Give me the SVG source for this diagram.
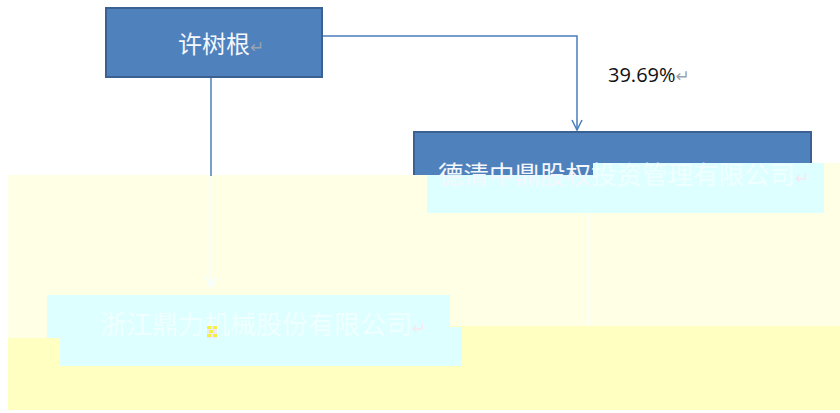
<svg xmlns="http://www.w3.org/2000/svg" width="840" height="413" viewBox="0 0 840 413">
  <style>
    .box { fill: #4F81BD; stroke: #3A6191; stroke-width: 2; }
    .ghost { fill: #DDFFFF; }
    .lbl { font-family: "Noto Sans CJK SC", "Noto Sans", sans-serif; font-size: 24px; fill: #F4F7FC; }
    .ret { fill: #9AA3B0; font-family: "DejaVu Sans", sans-serif; font-size: 17px; }
    .ret-pale { fill: #F6EAF2; font-family: "DejaVu Sans", sans-serif; font-size: 17px; }
    .pct { font-family: "Open Sans", "Liberation Sans", sans-serif; font-size: 20px; fill: #111; }
    .conn { fill: none; stroke-width: 1.5; }
  </style>
  <defs>
    <marker id="arrowBlue" viewBox="0 0 12 12" refX="11" refY="6" markerWidth="12" markerHeight="12" markerUnits="userSpaceOnUse" orient="auto">
      <path d="M1,1 L11,6 L1,11" fill="none" stroke="#4A7EBB" stroke-width="1.5"/>
    </marker>
    <marker id="arrowPale" viewBox="0 0 12 12" refX="11" refY="6" markerWidth="12" markerHeight="12" markerUnits="userSpaceOnUse" orient="auto">
      <path d="M1,1 L11,6 L1,11" fill="none" stroke="#F6FFFF" stroke-width="2"/>
    </marker>
    <linearGradient id="fade" gradientUnits="userSpaceOnUse" x1="0" y1="0" x2="0" y2="413">
      <stop offset="0.426" stop-color="#4A7EBB"/>
      <stop offset="0.426" stop-color="#F6FFFF"/>
    </linearGradient>
    <linearGradient id="textFade" gradientUnits="userSpaceOnUse" x1="0" y1="0" x2="840" y2="0">
      <stop offset="0.706" stop-color="#F4F7FC"/>
      <stop offset="0.706" stop-color="#F0FFFF"/>
    </linearGradient>
    <clipPath id="aboveOverlay">
      <polygon points="0,0 840,0 840,163 593,163 593,175 0,175"/>
    </clipPath>
  </defs>

  <rect width="840" height="413" fill="#FFFFFF"/>

  <!-- washed-out overlay background -->
  <g id="overlay">
    <rect x="8" y="175" width="832" height="163" fill="#FFFFE6"/>
    <rect x="824" y="163" width="16" height="12" fill="#FFFFE6"/>
    <rect x="8" y="338" width="832" height="72" fill="#FFFFC2"/>
    <rect x="450" y="326" width="390" height="12" fill="#FFFFC2"/>
  </g>

  <g id="connectors">
    <path class="conn" d="M323,36 H577 V130" stroke="#4A7EBB" marker-end="url(#arrowBlue)"/>
    <path class="conn" d="M211,78 V287" stroke="url(#fade)" stroke-width="1.8" marker-end="url(#arrowPale)"/>
    <path class="conn" d="M588,213 V326" stroke="#F8FFFF" stroke-width="2"/>
    <text class="pct" x="608" y="82">39.69%<tspan class="ret">↵</tspan></text>
  </g>

  <g id="node-xu">
    <rect class="box" x="106" y="8" width="216" height="69"/>
    <text class="lbl" x="178" y="53">许树根<tspan class="ret">↵</tspan></text>
  </g>

  <g id="node-deqing">
    <rect class="box" x="414" y="132" width="397" height="78" clip-path="url(#aboveOverlay)"/>
    <rect class="ghost" x="427" y="175" width="397" height="38"/>
    <rect class="ghost" x="593" y="163" width="231" height="12"/>
    <text class="lbl" x="438" y="184" style="font-size:25.5px;fill:url(#textFade)">德清中鼎股权投资管理有限公司<tspan class="ret-pale">↵</tspan></text>
  </g>

  <g id="node-zhejiang">
    <rect class="ghost" x="47" y="295" width="403" height="43"/>
    <rect class="ghost" x="60" y="327" width="402" height="39"/>
    <text class="lbl" x="100" y="334" style="font-size:26px;fill:#F0FFFF">浙江鼎力机械股份有限公司<tspan class="ret-pale">↵</tspan></text>
    <g id="artifact">
      <rect x="207" y="326" width="10" height="12" fill="#EEE8F4"/>
      <rect x="207" y="326" width="4" height="3" fill="#F2F23A"/>
      <rect x="213" y="326" width="4" height="3" fill="#F2F23A"/>
      <rect x="209" y="330" width="4" height="3" fill="#F2F23A"/>
      <rect x="207" y="334" width="4" height="3" fill="#F2F23A"/>
      <rect x="213" y="334" width="4" height="3" fill="#F2F23A"/>
    </g>
  </g>
</svg>
